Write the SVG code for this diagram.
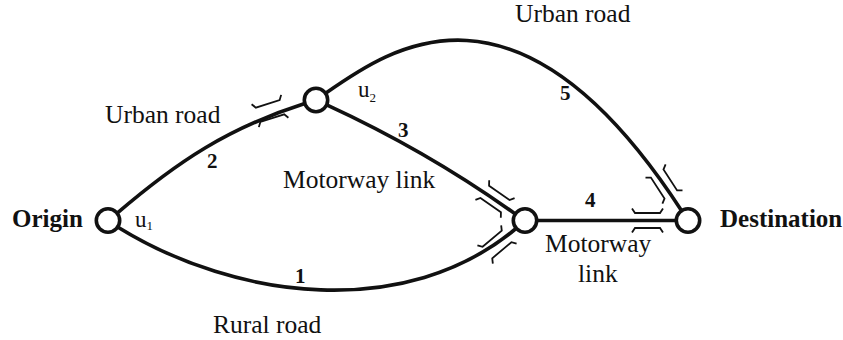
<svg xmlns="http://www.w3.org/2000/svg" xmlns:xlink="http://www.w3.org/1999/xlink" width="843" height="340" viewBox="0 0 843 340">
<style>
.road{fill:none;stroke:#111;stroke-width:3.6;stroke-linecap:round}
.node{fill:#fff;stroke:#111;stroke-width:3.6}
.br{fill:none;stroke:#111;stroke-width:1.8;stroke-linejoin:miter}
.lbl{font-family:"Liberation Serif","Times New Roman",serif;font-size:25.5px;fill:#111}
.num{font-family:"Liberation Serif","Times New Roman",serif;font-size:21px;font-weight:bold;fill:#111}
.end{font-family:"Liberation Serif","Times New Roman",serif;font-size:25px;font-weight:bold;fill:#111}
.u{font-family:"Liberation Serif","Times New Roman",serif;font-size:23px;fill:#111}
.sub{font-size:13px}
</style>
<defs>
<g id="bridge">
<path class="br" d="M-15.5,-12 L-12.5,-7.5 L12.5,-7.5 L15.5,-12"/>
<path class="br" d="M-15.5,12 L-12.5,7.5 L12.5,7.5 L15.5,12"/>
</g>
</defs>
<g id="connectors">
<path id="link1" class="road" d="M118,227.2 C237.1,300.7 406.5,320.4 516,228.5"/>
<path id="link2" class="road" d="M116.9,213.4 C177.6,161.3 228.6,127.7 304.8,103.5"/>
<path id="link3" class="road" d="M326.7,104.8 C394.7,136.1 454.6,170.4 515.5,214.1"/>
<path id="link4" class="road" d="M536.7,220.5 L676.3,220.5"/>
<path id="link5" class="road" d="M325.6,93.3 C391.1,47.4 518.1,-40.9 681.6,210.7"/>
<use xlink:href="#bridge" transform="translate(270,111) rotate(-17.6)"/>
<use xlink:href="#bridge" transform="translate(495,199) rotate(35)"/>
<use xlink:href="#bridge" transform="translate(497,244.5) rotate(-40)"/>
<use xlink:href="#bridge" transform="translate(647.5,220.5)"/>
<use xlink:href="#bridge" transform="translate(664,184) rotate(57)"/>
</g>
<g id="origin">
<circle class="node" cx="108" cy="220.5" r="11.7"/>
<text class="end" x="12" y="227">Origin</text>
<text class="u" x="135" y="226.7">u<tspan class="sub" dy="3">1</tspan></text>
</g>
<g id="u2">
<circle class="node" cx="316" cy="100" r="11.7"/>
<text class="u" x="358" y="97">u<tspan class="sub" dy="5">2</tspan></text>
</g>
<g id="junction">
<circle class="node" cx="525" cy="220.5" r="11.7"/>
</g>
<g id="destination">
<circle class="node" cx="688" cy="220.5" r="11.7"/>
<text class="end" x="720" y="227">Destination</text>
</g>
<g id="labels">
<text class="lbl" x="105" y="123">Urban road</text>
<text class="num" x="207" y="168">2</text>
<text class="num" x="398" y="137">3</text>
<text class="lbl" x="283" y="188">Motorway link</text>
<text class="lbl" x="515" y="22">Urban road</text>
<text class="num" x="560" y="100">5</text>
<text class="num" x="585" y="207">4</text>
<text class="lbl" x="545" y="252">Motorway</text>
<text class="lbl" x="578" y="282">link</text>
<text class="num" x="295" y="283">1</text>
<text class="lbl" x="213" y="333">Rural road</text>
</g>
</svg>
